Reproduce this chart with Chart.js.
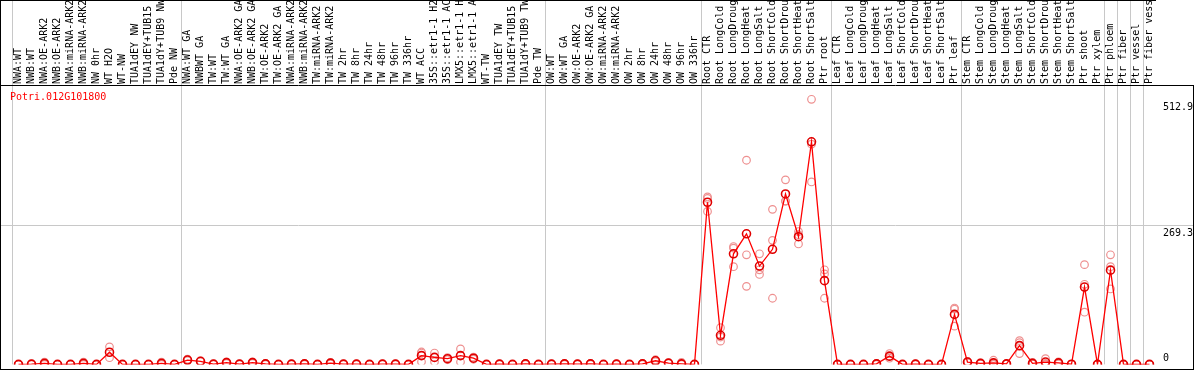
<!DOCTYPE html>
<html>
<head>
<meta charset="utf-8">
<script src="https://cdn.jsdelivr.net/npm/chart.js@4/dist/chart.umd.min.js"></script>
<style>
html,body{margin:0;padding:0;background:#fff;}
#wrap{width:1194px;height:370px;position:relative;}
</style>
</head>
<body>
<div id="wrap"><canvas id="c" width="1194" height="370"></canvas></div>
<script>
const geneId = "Potri.012G101800";

const categories = [
 "NWA:WT","NWB:WT","NWA:OE-ARK2","NWB:OE-ARK2","NWA:miRNA-ARK2","NWB:miRNA-ARK2","NW 0hr","WT H2O","WT-NW","TUA1dEY NW","TUA1dEY+TUB15","TUA1dY+TUB9 NW","Pde NW",
 "NWA:WT GA","NWBWT GA","TW:WT","TW:WT GA","NWA:OE-ARK2 GA","NWB:OE-ARK2 GA","TW:OE-ARK2","TW:OE-ARK2 GA","NWA:miRNA-ARK2","NWB:miRNA-ARK2","TW:miRNA-ARK2","TW:miRNA-ARK2","TW 2hr","TW 8hr","TW 24hr","TW 48hr","TW 96hr","TW 336hr","WT ACC","35S::etr1-1 H2","35S::etr1-1 AC","LMX5::etr1-1 H","LMX5::etr1-1 A","WT-TW","TUA1dEY TW","TUA1dEY+TUB15","TUA1dY+TUB9 TW","Pde TW",
 "OW:WT","OW:WT GA","OW:OE-ARK2","OW:OE-ARK2 GA","OW:miRNA-ARK2","OW:miRNA-ARK2","OW 2hr","OW 8hr","OW 24hr","OW 48hr","OW 96hr","OW 336hr",
 "Root CTR","Root LongCold","Root LongDroug","Root LongHeat","Root LongSalt","Root ShortCold","Root ShortDrou","Root ShortHeat","Root ShortSalt","Ptr root",
 "Leaf CTR","Leaf LongCold","Leaf LongDroug","Leaf LongHeat","Leaf LongSalt","Leaf ShortCold","Leaf ShortDrou","Leaf ShortHeat","Leaf ShortSalt","Ptr leaf",
 "Stem CTR","Stem LongCold","Stem LongDroug","Stem LongHeat","Stem LongSalt","Stem ShortCold","Stem ShortDrou","Stem ShortHeat","Stem ShortSalt","Ptr shoot","Ptr xylem",
 "Ptr phloem","Ptr fiber","Ptr vessel","Ptr fiber vess"
];

// index of the first category of each group (vertical separators); 88 = right end
const groupStarts = [0, 13, 41, 53, 63, 73, 84, 85, 86, 87, 88];

const meanValues = [
 0,0.5,2,0,0,2,0,23.5,0,0,0,2,0,
 8.4,6,0.5,3.5,0.5,3.5,1,0,0.5,1,0,2.5,0.5,0.5,0,0.5,0.5,0,17,13.5,11,17,12,0,0.5,0,1,0,
 0.5,1,0.5,1,0,0.5,0,1,7,2.5,1,0,
 313.7,56.3,214,252.7,190.3,222.7,329.7,247,430.6,162,
 0,0,0,1,16,0,0.5,0,0,96.7,
 4.5,2,3,1,36.3,2,4.5,3,0.3,149.7,0,
 182.3,0,0,0
];

const rep1 = [
 0,1,4.5,0,0,4.5,0,34,0,0,0,4.5,0,
 10,7,1,5,1,5,2,0,1,2,0,4,1,1,0,1,1,0,24,22,13,30,14,0,1,0,2,0,
 1,2,1,2,0,1,0,2,9,3,4,0,
 324,71,228,395,214,300,357,257,512.9,183,
 0,0,0,2,21,0,1,0,0,109,
 6,3,8,1,46,4,11,5,0.5,193,0,
 212,0,0,0
];
const rep2 = [
 0,0,0,0,0,0,0,13,0,0,0,0,0,
 7,5,0,2,0,2,0,0,0,0,0,1,0,0,0,0,0,0,22,5,9,4.5,10,0,0,0,0,0,
 0,0,0,0,0,0,0,0,5,2,0,0,
 321,53,225,212,183,240,316,251,426,175,
 0,0,0,1,15,0,0,0,0,107,
 4,2,1,1,42,1,2,3,0.2,155,0,
 189,0,0,0
];
const rep3 = [
 null,null,null,null,null,null,null,null,null,null,null,null,null,
 null,null,null,null,null,null,null,null,null,null,null,null,null,null,null,null,null,null,5,null,null,null,null,null,null,null,null,null,
 null,null,null,null,null,null,null,null,null,null,null,null,
 296,45,189,151,174,128,316,233,353,128,
 0,0,0,0,12,0,0.5,0,0,74,
 3.5,1,0,1,21,1,0.5,1,0.2,101,0,
 146,0,0,0
];

const yTickValues = [0, 269.3, 512.9];
const yGridValues = [269.3];
const yMax = 538.6;

const MONO = "'DejaVu Sans Mono', 'Liberation Mono', monospace";

const framePlugin = {
  id: 'framePlugin',
  beforeDatasetsDraw(chart) {
    const ctx = chart.ctx, y = chart.scales.y;
    ctx.save();
    ctx.strokeStyle = '#c8c8c8';
    ctx.lineWidth = 1;
    yGridValues.forEach(v => {
      const yy = Math.round(y.getPixelForValue(v)) + 0.5;
      ctx.beginPath(); ctx.moveTo(0, yy); ctx.lineTo(chart.width, yy); ctx.stroke();
    });
    ctx.restore();
  },
  afterDraw(chart) {
    const ctx = chart.ctx, y = chart.scales.y, area = chart.chartArea;
    ctx.save();
    ctx.strokeStyle = '#000';
    ctx.lineWidth = 1;
    ctx.beginPath();
    ctx.moveTo(0.5, 0); ctx.lineTo(0.5, chart.height);
    ctx.moveTo(chart.width - 0.5, 85); ctx.lineTo(chart.width - 0.5, chart.height);
    ctx.moveTo(0, 0.5); ctx.lineTo(area.right, 0.5);
    ctx.moveTo(0, 85.5); ctx.lineTo(chart.width, 85.5);
    ctx.moveTo(0, chart.height - 0.5); ctx.lineTo(chart.width, chart.height - 0.5);
    ctx.stroke();
    // right axis labels
    ctx.fillStyle = '#000';
    ctx.font = '10px ' + MONO;
    ctx.textAlign = 'left';
    yTickValues.forEach(v => {
      const py = y.getPixelForValue(v);
      if (v === 0) { ctx.textBaseline = 'bottom'; ctx.fillText(String(v), area.right + 7, py - 1); }
      else { ctx.textBaseline = 'top'; ctx.fillText(String(v), area.right + 7, py + 3); }
    });
    // gene id title
    ctx.fillStyle = '#ff0000';
    ctx.textBaseline = 'middle';
    ctx.fillText(geneId, 10, 97);
    ctx.restore();
  }
};

const repStyle = {
  type: 'line', showLine: false, pointStyle: 'circle', pointRadius: 3.8,
  pointBorderColor: '#ee9090', pointBackgroundColor: 'rgba(0,0,0,0)', pointBorderWidth: 1.2
};

new Chart(document.getElementById('c'), {
  type: 'line',
  data: {
    labels: categories,
    datasets: [
      { data: meanValues, borderColor: '#ff0000', borderWidth: 1.3, pointStyle: 'circle', pointRadius: 4,
        pointBorderColor: '#e00000', pointBackgroundColor: 'rgba(0,0,0,0)', pointBorderWidth: 1.6, tension: 0 },
      Object.assign({ data: rep1 }, repStyle),
      Object.assign({ data: rep2 }, repStyle),
      Object.assign({ data: rep3 }, repStyle)
    ]
  },
  options: {
    responsive: false,
    animation: false,
    events: [],
    layout: { padding: { left: 12, right: 38, top: 0, bottom: 1.5 } },
    plugins: { legend: { display: false }, tooltip: { enabled: false }, title: { display: false } },
    scales: {
      x: {
        type: 'category',
        position: 'top',
        offset: true,
        border: { display: false },
        grid: {
          offset: true,
          drawOnChartArea: true,
          drawTicks: true,
          tickLength: 86,
          lineWidth: 1,
          color: ctx => groupStarts.includes(ctx.index) ? '#c8c8c8' : 'rgba(0,0,0,0)',
          tickColor: ctx => groupStarts.includes(ctx.index) ? '#c8c8c8' : 'rgba(0,0,0,0)'
        },
        ticks: {
          autoSkip: false,
          minRotation: 90,
          maxRotation: 90,
          padding: -84,
          labelOffset: 12,
          color: '#000',
          font: { family: MONO, size: 10 }
        },
        afterFit: s => { s.height = 86; s.paddingLeft = 0; s.paddingRight = 0; }
      },
      y: {
        display: false,
        min: 0,
        max: yMax
      }
    }
  },
  plugins: [framePlugin]
});
</script>
</body>
</html>
